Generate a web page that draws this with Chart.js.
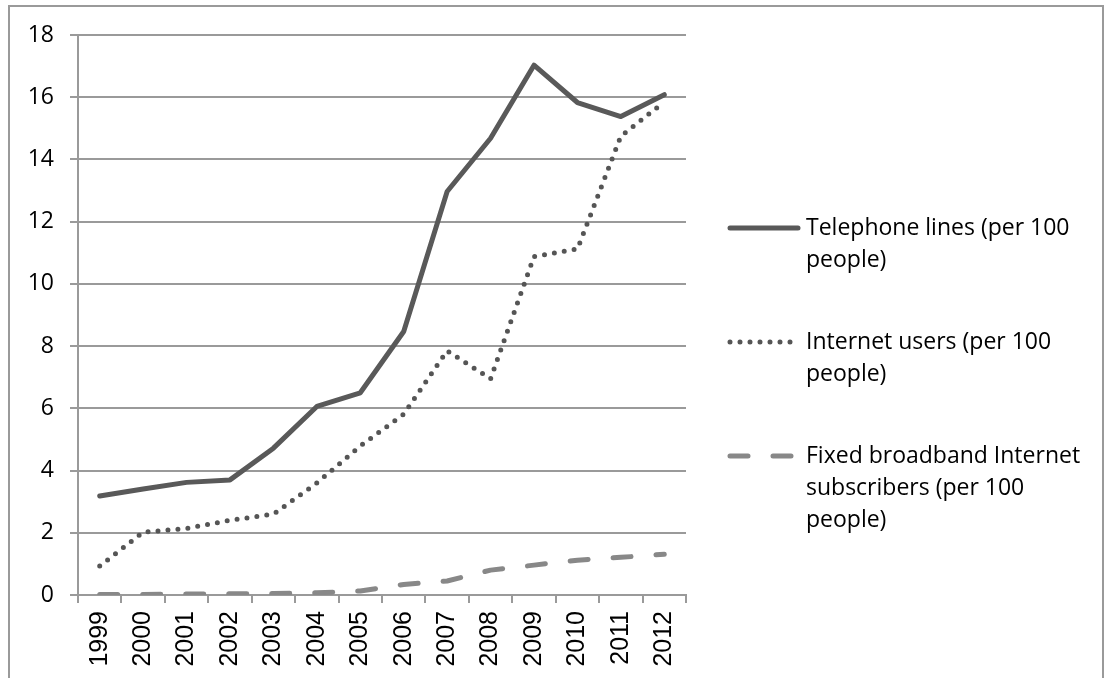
<!DOCTYPE html>
<html>
<head>
<meta charset="utf-8">
<script src="https://cdn.jsdelivr.net/npm/chart.js@4.4.1/dist/chart.umd.min.js"></script>
<style>
  html, body { margin: 0; padding: 0; background: #fff; }
  .frame {
    position: absolute; left: 8px; top: 5px;
    width: 1092px; height: 700px;
    border: 2px solid #9a9a9a; border-bottom: none;
  }
  #chart { position: absolute; left: 0; top: 0; }
</style>
</head>
<body>
<div class="frame"></div>
<canvas id="chart" width="1106" height="678"></canvas>
<script>
const years = ["1999", "2000", "2001", "2002", "2003", "2004", "2005",
  "2006", "2007", "2008", "2009", "2010", "2011", "2012"];
const telephone = [3.18, 3.41, 3.62, 3.7, 4.72, 6.06, 6.5, 8.47, 12.97, 14.68, 17.03, 15.83, 15.38, 16.08];
const internet = [0.93, 2.02, 2.14, 2.4, 2.6, 3.6, 4.79, 5.81, 7.85, 6.95, 10.88, 11.12, 14.75, 15.85];
const broadband = [0.02, 0.02, 0.03, 0.04, 0.05, 0.07, 0.13, 0.34, 0.45, 0.8, 0.96, 1.12, 1.21, 1.31];
const names = [
  "Telephone lines (per 100 people)",
  "Internet users (per 100 people)",
  "Fixed broadband Internet subscribers (per 100 people)",
];

const textFont = "'Open Sans', sans-serif";
const gridColor = "#9a9a9a";

// legend drawn by hand so the long labels can wrap over several lines
const sideLegend = {
  id: "sideLegend",
  afterDraw(chart) {
    const ctx = chart.ctx;
    const lineHeight = 32;
    const itemGap = 50;
    const maxWidth = 294;
    let y = 228;
    ctx.save();
    ctx.font = "23px " + textFont;
    ctx.textBaseline = "middle";
    chart.data.datasets.forEach(function (ds) {
      // sample line
      ctx.save();
      ctx.strokeStyle = ds.borderColor;
      ctx.lineWidth = ds.borderWidth;
      ctx.lineCap = ds.borderCapStyle || "butt";
      ctx.setLineDash(ds.borderDash || []);
      ctx.beginPath();
      ctx.moveTo(730, y);
      ctx.lineTo(798, y);
      ctx.stroke();
      ctx.restore();

      // wrap the label
      const words = ds.label.split(" ");
      const lines = [];
      let cur = "";
      words.forEach(function (w) {
        const test = cur ? cur + " " + w : w;
        if (cur && ctx.measureText(test).width > maxWidth) {
          lines.push(cur);
          cur = w;
        } else {
          cur = test;
        }
      });
      lines.push(cur);

      ctx.fillStyle = "#000";
      lines.forEach(function (line, i) {
        ctx.fillText(line, 806, y + i * lineHeight);
      });
      y += lines.length * lineHeight + itemGap;
    });
    ctx.restore();
  },
};

const chart = new Chart(document.getElementById("chart"), {
  type: "line",
  data: {
    labels: years,
    datasets: [
      {
        label: names[0],
        data: telephone,
        borderColor: "#595959",
        borderWidth: 5,
        borderCapStyle: "round",
        borderJoinStyle: "round",
        pointRadius: 0,
        fill: false,
      },
      {
        label: names[1],
        data: internet,
        borderColor: "#555555",
        borderWidth: 5,
        borderDash: [0, 10],
        borderCapStyle: "round",
        borderJoinStyle: "round",
        pointRadius: 0,
        fill: false,
      },
      {
        label: names[2],
        data: broadband,
        borderColor: "#888888",
        borderWidth: 5,
        borderDash: [18, 25],
        borderCapStyle: "round",
        borderJoinStyle: "round",
        pointRadius: 0,
        fill: false,
      },
    ],
  },
  options: {
    responsive: false,
    animation: false,
    layout: { padding: { top: 35, right: 420, left: 0, bottom: 0 } },
    plugins: {
      legend: { display: false },
      tooltip: { enabled: false },
    },
    scales: {
      x: {
        offset: true,
        grid: {
          offset: true,
          drawOnChartArea: false,
          drawTicks: true,
          tickLength: 8,
          color: gridColor,
          lineWidth: 2,
        },
        border: { color: gridColor, width: 2 },
        ticks: {
          minRotation: 90,
          maxRotation: 90,
          padding: 8,
          color: "#000",
          font: { family: "'Liberation Sans', Arial, sans-serif", size: 25 },
        },
        afterFit(scale) {
          scale.height = 83;
        },
      },
      y: {
        min: 0,
        max: 18,
        ticks: {
          stepSize: 2,
          padding: 16,
          color: "#000",
          font: { family: textFont, size: 23 },
        },
        grid: {
          color: gridColor,
          lineWidth: 2,
          tickLength: 8,
        },
        border: { color: gridColor, width: 2 },
        afterFit(scale) {
          scale.width = 78;
        },
      },
    },
  },
  plugins: [sideLegend],
});
</script>
</body>
</html>
